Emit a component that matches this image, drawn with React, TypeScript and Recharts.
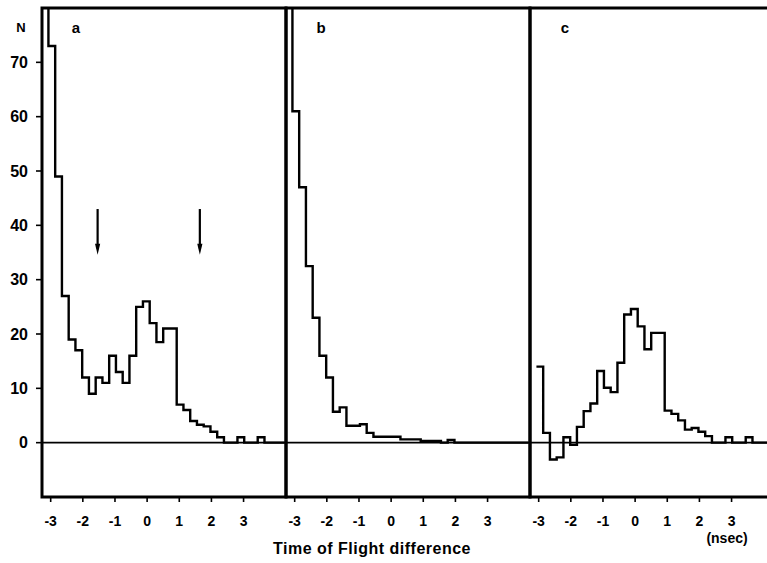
import React from 'react';
import { LineChart, Line, XAxis, YAxis, ReferenceLine, ReferenceArea } from 'recharts';

// Left edges of the time-of-flight bins (nsec); last entry is the right edge of the last bin
const binEdges = [
  -3.27, -3.07, -2.86, -2.65, -2.44, -2.23, -2.02, -1.81, -1.6, -1.39, -1.18, -0.97,
  -0.76, -0.55, -0.34, -0.13, 0.08, 0.29, 0.5, 0.71, 0.92, 1.13, 1.34, 1.55,
  1.76, 1.97, 2.18, 2.39, 2.6, 2.81, 3.02, 3.23, 3.44, 3.65, 3.86, 4.07,
];
const lastEdge = 4.28;

// Counts N per bin (first bin of a and b runs off the top of the frame)
const countsA = [
  120, 73, 49, 27, 19, 17, 12, 9, 12, 11, 16, 13,
  11, 16, 25, 26, 22, 18.5, 21, 21, 7, 6, 4, 3.3,
  3, 2, 1, 0, 0, 1, 0, 0, 1, 0, 0, 0,
];
const countsB = [
  120, 61, 47, 32.5, 23, 16, 12, 5.7, 6.5, 3.1, 3.1, 3.4,
  1.8, 1.1, 1.1, 1.1, 1.1, 0.6, 0.6, 0.6, 0.3, 0.3, 0.3, 0,
  0.5, 0, 0, 0, 0, 0, 0, 0, 0, 0, 0, 0,
];
const countsC = [
  null, 14, 1.8, -3.1, -2.7, 1.0, -0.4, 2.9, 5.8, 7.2, 13.2, 10.1,
  9.3, 14.7, 23.6, 24.6, 21.4, 17.2, 20.2, 20.2, 5.9, 5.3, 4.1, 2.4,
  2.7, 2.0, 1.2, 0, 0, 1, 0, 0, 1, 0, 0, 0,
];

const xTicks = [-3, -2, -1, 0, 1, 2, 3];
const yTicks = [0, 10, 20, 30, 40, 50, 60, 70];
const xDomain = [-3.27, 4.32];
const yDomain = [-10, 80];

// Arrows in panel a
const arrowXs = [-1.54, 1.64];
const arrowTop = 43;
const arrowBottom = 34.6;

const FONT = '"Liberation Sans", Arial, sans-serif';

function toSteps(values: (number | null)[]) {
  const pts = binEdges.map((x, i) => ({ x, n: values[i] }));
  pts.push({ x: lastEdge, n: values[values.length - 1] });
  return pts;
}

const ArrowShape = (props: any) => {
  const { x1, y1, x2, y2 } = props;
  if (x1 == null || y1 == null) return <g />;
  return (
    <g>
      <line x1={x1} y1={y1} x2={x2} y2={y2 - 6} stroke="#000" strokeWidth={2.2} />
      <polygon points={`${x2 - 2.6},${y2 - 11} ${x2 + 2.6},${y2 - 11} ${x2},${y2}`} fill="#000" />
    </g>
  );
};

type PanelProps = {
  left: number;
  counts: (number | null)[];
  first?: boolean;
  letter: string;
  letterX: number;
  arrows?: boolean;
  unit?: boolean;
};

function Panel({ left, counts, first, letter, letterX, arrows, unit }: PanelProps) {
  const width = first ? 290 : 254;
  const data = toSteps(counts);
  return (
    <div style={{ position: 'absolute', left, top: 0 }}>
      <LineChart
        width={width}
        height={563}
        data={data}
        margin={{ top: 8, right: 4, bottom: 0, left: first ? 0 : 6 }}
      >
        <XAxis
          xAxisId="b"
          dataKey="x"
          type="number"
          domain={xDomain}
          allowDataOverflow
          ticks={xTicks}
          interval={0}
          height={66}
          tickSize={5}
          tickMargin={14}
          axisLine={false}
          tickLine={{ stroke: '#000', strokeWidth: 1.6 }}
          tick={{ fill: '#000', fontSize: 14, fontWeight: 'bold', fontFamily: FONT }}
        />
        {first ? (
          <YAxis
            type="number"
            domain={yDomain}
            allowDataOverflow
            ticks={yTicks}
            interval={0}
            width={42}
            tickSize={6}
            tickMargin={8}
            axisLine={false}
            tickLine={{ stroke: '#000', strokeWidth: 1.6 }}
            tick={{ fill: '#000', fontSize: 16, fontWeight: 'bold', fontFamily: FONT }}
          />
        ) : (
          <YAxis type="number" domain={yDomain} allowDataOverflow width={0} hide />
        )}
        <ReferenceArea
          xAxisId="b"
          x1={xDomain[0]}
          x2={xDomain[1]}
          y1={yDomain[0]}
          y2={yDomain[1]}
          fill="none"
          fillOpacity={0}
          stroke="#000"
          strokeWidth={3}
          ifOverflow="visible"
        />
        <ReferenceLine xAxisId="b" y={0} stroke="#000" strokeWidth={1.8} />
        {arrows &&
          arrowXs.map((ax) => (
            <ReferenceLine
              key={ax}
              xAxisId="b"
              segment={[
                { x: ax, y: arrowTop },
                { x: ax, y: arrowBottom },
              ]}
              shape={ArrowShape}
            />
          ))}
        <Line
          xAxisId="b"
          type="stepAfter"
          dataKey="n"
          stroke="#000"
          strokeWidth={2.4}
          dot={false}
          activeDot={false}
          connectNulls={false}
          isAnimationActive={false}
        />
        {first && (
          <text x={21} y={32} textAnchor="middle" fontSize={13} fontWeight="bold" fontFamily={FONT} fill="#000">
            N
          </text>
        )}
        <text x={letterX} y={33} textAnchor="middle" fontSize={15} fontWeight="bold" fontFamily={FONT} fill="#000">
          {letter}
        </text>
        {unit && (
          <text x={203} y={543} textAnchor="middle" fontSize={14} fontWeight="bold" fontFamily={FONT} fill="#000">
            (nsec)
          </text>
        )}
      </LineChart>
    </div>
  );
}

export default function App() {
  return (
    <div
      style={{
        position: 'absolute',
        left: 0,
        top: 0,
        width: 767,
        height: 563,
        overflow: 'hidden',
        background: '#fff',
      }}
    >
      <Panel left={0} counts={countsA} first letter="a" letterX={76} arrows />
      <Panel left={280} counts={countsB} letter="b" letterX={41} />
      <Panel left={524} counts={countsC} letter="c" letterX={41} unit />
      <div
        style={{
          position: 'absolute',
          left: 172,
          width: 400,
          top: 540,
          textAlign: 'center',
          fontFamily: FONT,
          fontWeight: 'bold',
          fontSize: 16,
          letterSpacing: '0.5px',
          lineHeight: '18px',
          color: '#000',
        }}
      >
        Time of Flight difference
      </div>
    </div>
  );
}
